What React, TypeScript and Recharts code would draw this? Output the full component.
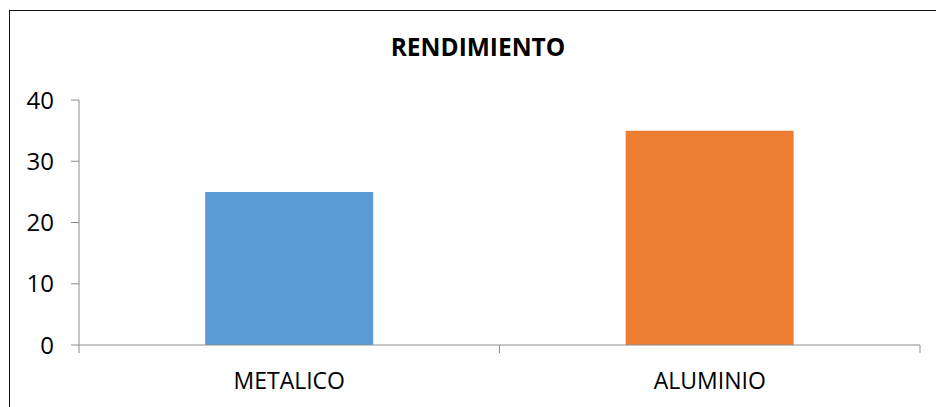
import React from "react";
import { BarChart, Bar, XAxis, YAxis, Cell } from "recharts";

const categories = ["METALICO", "ALUMINIO"];
const values = [25, 35];
const barColors = ["#5B9BD5", "#ED7D31"];
const yTicks = [0, 10, 20, 30, 40];

const data = categories.map((name, i) => ({ name, value: values[i] }));

const AXIS = "#8C8C8C";
const FONT = "'Open Sans', sans-serif";

// category label plus Excel-style tick marks on the band edges
function CategoryTick(props: any) {
  const { x, y, payload } = props;
  const half = payload.offset || 0;
  return (
    <g>
      <line x1={x - half} x2={x - half} y1={345} y2={353} stroke={AXIS} />
      <line x1={x + half} x2={x + half} y1={345} y2={353} stroke={AXIS} />
      <text x={x} y={y} dy="0.71em" textAnchor="middle" fill="#000" fontSize={23} fontFamily={FONT}>
        {payload.value}
      </text>
    </g>
  );
}

export default function App() {
  return (
    <div style={{ position: "fixed", left: 0, top: 0, width: 936, height: 407, background: "#fff", fontFamily: FONT, overflow: "hidden" }}>
      <div style={{ position: "absolute", left: 9, top: 10, width: 940, height: 400, borderTop: "1px solid #111", borderLeft: "1px solid #111" }} />
      <div style={{ position: "absolute", left: 0, width: 956, top: 31, textAlign: "center", fontWeight: 700, fontSize: 24.5, color: "#000", lineHeight: "32px" }}>
        RENDIMIENTO
      </div>
      <div style={{ position: "absolute", left: 0, top: 0 }}>
        <BarChart width={936} height={407} data={data} margin={{ top: 100, right: 16, bottom: 0, left: 0 }} barCategoryGap="30%">
          <XAxis
            dataKey="name"
            height={62}
            tickLine={false}
            tickSize={0}
            tickMargin={28}
            axisLine={{ stroke: AXIS }}
            tick={<CategoryTick />}
          />
          <YAxis
            width={79}
            domain={[0, 40]}
            ticks={yTicks}
            axisLine={{ stroke: AXIS }}
            tickLine={{ stroke: AXIS }}
            tickSize={8}
            tickMargin={17}
            tick={{ fill: "#000", fontSize: 24, fontFamily: FONT }}
          />
          <Bar dataKey="value" isAnimationActive={false}>
            {data.map((d, i) => (
              <Cell key={d.name} fill={barColors[i]} />
            ))}
          </Bar>
        </BarChart>
      </div>
    </div>
  );
}
